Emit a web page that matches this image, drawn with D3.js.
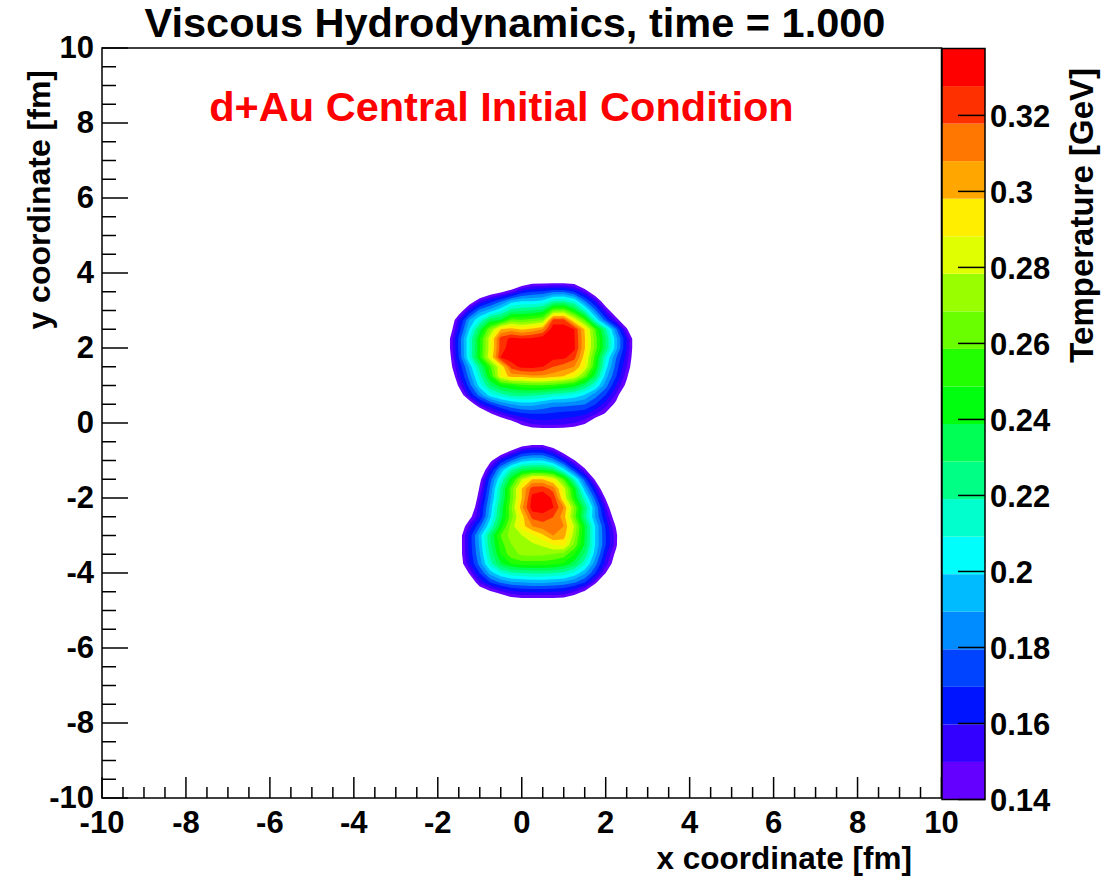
<!DOCTYPE html>
<html>
<head>
<meta charset="utf-8">
<script src="https://cdn.jsdelivr.net/npm/d3@7"></script>
<style>
  body { margin: 0; background: #fff; }
  svg text { font-family: "Liberation Sans", Arial, Helvetica, sans-serif; font-weight: bold; fill: #000; }
</style>
</head>
<body>
<svg id="chart" width="1103" height="878"></svg>
<script>
// ---- data -------------------------------------------------------------
// Grid coordinates (fm) of the sampled temperature field
const gridX = [-2.0, -1.75, -1.5, -1.25, -1.0, -0.75, -0.5, -0.25, 0.0, 0.25, 0.5,
               0.75, 1.0, 1.25, 1.5, 1.75, 2.0, 2.25, 2.5, 2.75, 3.0];
const gridY = [4.0, 3.75, 3.5, 3.25, 3.0, 2.75, 2.5, 2.25, 2.0, 1.75, 1.5, 1.25, 1.0,
               0.75, 0.5, 0.25, 0.0, -0.25, -0.5, -0.75, -1.0, -1.25, -1.5, -1.75,
               -2.0, -2.25, -2.5, -2.75, -3.0, -3.25, -3.5, -3.75, -4.0, -4.25, -4.5,
               -4.75, -5.0];

// Temperature [GeV], one row per gridY value, one column per gridX value
const temperature = [
  [.091,.091,.091,.091,.091,.091,.091,.091,.091,.091,.091,.091,.091,.091,.091,.091,.091,.091,.091,.091,.091],
  [.091,.091,.091,.091,.091,.091,.100,.110,.125,.135,.136,.136,.136,.134,.115,.096,.091,.091,.091,.091,.091],
  [.091,.091,.091,.091,.115,.128,.137,.148,.164,.170,.172,.178,.178,.169,.150,.125,.100,.091,.091,.091,.091],
  [.091,.091,.100,.128,.151,.165,.178,.194,.199,.199,.202,.217,.219,.209,.182,.158,.126,.096,.091,.091,.091],
  [.091,.100,.127,.159,.184,.194,.207,.224,.227,.229,.234,.264,.266,.244,.214,.182,.151,.122,.091,.091,.091],
  [.091,.117,.155,.189,.209,.234,.239,.261,.259,.263,.268,.321,.321,.288,.259,.209,.175,.147,.120,.091,.091],
  [.091,.125,.163,.199,.234,.268,.298,.303,.296,.301,.308,.335,.335,.328,.297,.259,.220,.181,.143,.105,.091],
  [.097,.134,.172,.209,.248,.285,.323,.330,.328,.330,.334,.336,.336,.329,.299,.264,.229,.193,.159,.123,.091],
  [.097,.134,.172,.209,.248,.285,.323,.333,.336,.335,.334,.335,.335,.330,.299,.264,.229,.193,.159,.123,.091],
  [.091,.130,.170,.209,.249,.288,.328,.333,.335,.334,.332,.331,.330,.321,.293,.254,.211,.180,.155,.122,.091],
  [.097,.128,.161,.192,.225,.257,.289,.322,.331,.331,.328,.318,.313,.308,.288,.249,.204,.175,.150,.120,.091],
  [.091,.115,.155,.184,.214,.249,.288,.303,.303,.306,.306,.303,.298,.288,.264,.234,.194,.170,.143,.110,.091],
  [.091,.105,.143,.175,.204,.229,.244,.249,.254,.257,.257,.254,.249,.244,.229,.209,.184,.160,.135,.100,.091],
  [.091,.091,.125,.160,.184,.204,.214,.222,.224,.222,.219,.214,.211,.207,.199,.184,.170,.148,.115,.091,.091],
  [.091,.091,.100,.125,.155,.170,.182,.189,.194,.194,.189,.184,.184,.182,.180,.170,.155,.135,.105,.091,.091],
  [.091,.091,.091,.096,.115,.138,.152,.163,.168,.170,.170,.168,.166,.165,.162,.152,.138,.110,.091,.091,.091],
  [.091,.091,.091,.091,.091,.105,.120,.132,.145,.153,.155,.155,.154,.150,.143,.125,.105,.091,.091,.091,.091],
  [.091,.091,.091,.091,.091,.091,.091,.105,.120,.126,.127,.127,.127,.125,.115,.100,.091,.091,.091,.091,.091],
  [.091,.091,.091,.091,.091,.091,.091,.100,.120,.127,.127,.115,.100,.091,.091,.091,.091,.091,.091,.091,.091],
  [.091,.091,.091,.091,.091,.100,.125,.143,.160,.165,.164,.152,.132,.105,.091,.091,.091,.091,.091,.091,.091],
  [.091,.091,.091,.091,.100,.135,.162,.179,.194,.199,.199,.186,.165,.142,.117,.091,.091,.091,.091,.091,.091],
  [.091,.091,.091,.091,.120,.158,.192,.219,.234,.239,.239,.232,.204,.172,.145,.110,.091,.091,.091,.091,.091],
  [.091,.091,.091,.091,.135,.175,.209,.244,.278,.298,.298,.288,.259,.214,.175,.137,.100,.091,.091,.091,.091],
  [.091,.091,.091,.100,.143,.182,.222,.262,.298,.323,.325,.313,.283,.244,.194,.160,.120,.091,.091,.091,.091],
  [.091,.091,.091,.110,.150,.187,.224,.262,.298,.331,.334,.326,.288,.249,.212,.176,.138,.100,.091,.091,.091],
  [.091,.091,.091,.120,.157,.193,.231,.267,.305,.333,.334,.328,.308,.268,.229,.189,.152,.115,.091,.091,.091],
  [.091,.091,.095,.134,.160,.197,.234,.264,.293,.321,.324,.318,.303,.264,.224,.189,.160,.128,.091,.091,.091],
  [.091,.091,.122,.152,.178,.209,.244,.273,.293,.308,.313,.315,.308,.278,.239,.199,.168,.138,.095,.091,.091],
  [.091,.091,.130,.163,.194,.229,.259,.273,.278,.286,.296,.308,.303,.273,.239,.199,.170,.144,.100,.091,.091],
  [.091,.091,.130,.163,.192,.227,.254,.268,.273,.276,.280,.288,.291,.266,.237,.199,.170,.143,.100,.091,.091],
  [.091,.091,.130,.162,.189,.222,.249,.265,.270,.271,.270,.268,.264,.249,.227,.194,.162,.135,.095,.091,.091],
  [.091,.091,.127,.158,.184,.214,.237,.249,.254,.254,.254,.252,.247,.234,.212,.184,.155,.128,.091,.091,.091],
  [.091,.091,.110,.142,.170,.194,.209,.217,.219,.221,.221,.219,.216,.207,.192,.170,.140,.105,.091,.091,.091],
  [.091,.091,.091,.120,.152,.170,.181,.187,.189,.191,.191,.189,.187,.181,.170,.144,.115,.091,.091,.091,.091],
  [.091,.091,.091,.091,.125,.137,.148,.156,.160,.161,.161,.160,.158,.150,.137,.115,.091,.091,.091,.091,.091],
  [.091,.091,.091,.091,.091,.100,.115,.128,.130,.130,.130,.130,.129,.120,.100,.091,.091,.091,.091,.091,.091],
  [.091,.091,.091,.091,.091,.091,.091,.091,.091,.091,.091,.091,.091,.091,.091,.091,.091,.091,.091,.091,.091]
];

// Axis ticks and colour-axis range
const xTicks = [-10, -8, -6, -4, -2, 0, 2, 4, 6, 8, 10];
const yTicks = [-10, -8, -6, -4, -2, 0, 2, 4, 6, 8, 10];
const tempTicks = [0.14, 0.16, 0.18, 0.2, 0.22, 0.24, 0.26, 0.28, 0.3, 0.32];
const tempRange = [0.14, 0.3376];
const contourCount = 20;

// Rainbow palette, violet -> red, one colour per contour band
const bandColors = ["#6300ff", "#3300ff", "#0014ff", "#0044ff", "#008bff", "#00bbff",
                    "#00fffc", "#00ffcc", "#00ff85", "#00ff55", "#00ff0e", "#22ff00",
                    "#69ff00", "#99ff00", "#e0ff00", "#ffee00", "#ffa700", "#ff7700",
                    "#ff3000", "#ff0000"];

// ---- layout -----------------------------------------------------------
const frame = { left: 102, right: 941.5, top: 48, bottom: 798 };
const bar = { left: 942, right: 985, top: 48.5, bottom: 799.5 };

const svg = d3.select("#chart");
const x = d3.scaleLinear().domain([-10, 10]).range([frame.left, frame.right]);
const y = d3.scaleLinear().domain([-10, 10]).range([frame.bottom, frame.top]);
const z = d3.scaleLinear().domain(tempRange).range([bar.bottom, bar.top]);

// ---- temperature field as filled contour bands ---------------------
const nx = gridX.length, ny = gridY.length;
const levels = d3.range(contourCount).map(i => tempRange[0] + i * (tempRange[1] - tempRange[0]) / contourCount);
const contours = d3.contours().size([nx, ny]).thresholds(levels)(temperature.flat());

// contour coordinates: value i sits at i + 0.5
const gx = d3.scaleLinear().domain([0.5, nx - 0.5]).range([gridX[0], gridX[nx - 1]]);
const gy = d3.scaleLinear().domain([0.5, ny - 0.5]).range([gridY[0], gridY[ny - 1]]);
const toScreen = d3.geoTransform({
  point(px, py) { this.stream.point(x(gx(px)), y(gy(py))); }
});
const path = d3.geoPath(toScreen);

svg.append("clipPath").attr("id", "frameClip")
  .append("rect")
  .attr("x", frame.left).attr("y", frame.top)
  .attr("width", frame.right - frame.left).attr("height", frame.bottom - frame.top);

svg.append("g").attr("clip-path", "url(#frameClip)")
  .selectAll("path")
  .data(contours)
  .join("path")
  .attr("d", path)
  .attr("fill", (d, i) => bandColors[i]);

// ---- frame & axes -----------------------------------------------------
svg.append("rect")
  .attr("x", frame.left).attr("y", frame.top)
  .attr("width", frame.right - frame.left).attr("height", frame.bottom - frame.top)
  .attr("fill", "none").attr("stroke", "#000").attr("stroke-width", 1.5);

const minorStep = 0.5;
const minorTicks = d3.range(-10, 10.001, minorStep).filter(v => Math.abs(v / 2 - Math.round(v / 2)) > 1e-6);

const axes = svg.append("g").attr("stroke", "#000").attr("stroke-width", 1.5);
// x axis ticks (pointing up into the frame)
axes.selectAll(".xmaj").data(xTicks).join("line")
  .attr("x1", d => x(d)).attr("x2", d => x(d))
  .attr("y1", frame.bottom).attr("y2", frame.bottom - 21);
axes.selectAll(".xmin").data(minorTicks).join("line")
  .attr("x1", d => x(d)).attr("x2", d => x(d))
  .attr("y1", frame.bottom).attr("y2", frame.bottom - 11);
// y axis ticks (pointing right into the frame)
axes.selectAll(".ymaj").data(yTicks).join("line")
  .attr("y1", d => y(d)).attr("y2", d => y(d))
  .attr("x1", frame.left).attr("x2", frame.left + 26);
axes.selectAll(".ymin").data(minorTicks).join("line")
  .attr("y1", d => y(d)).attr("y2", d => y(d))
  .attr("x1", frame.left).attr("x2", frame.left + 14);

svg.append("g").selectAll("text").data(xTicks).join("text")
  .attr("x", d => x(d)).attr("y", 833)
  .attr("text-anchor", "middle").attr("font-size", 31)
  .text(d => d);
svg.append("g").selectAll("text").data(yTicks).join("text")
  .attr("x", 94).attr("y", d => y(d)).attr("dy", "0.33em")
  .attr("text-anchor", "end").attr("font-size", 31)
  .text(d => d);

// axis titles
svg.append("text")
  .attr("x", 912).attr("y", 869)
  .attr("text-anchor", "end").attr("font-size", 31.5)
  .text("x coordinate [fm]");
svg.append("text")
  .attr("transform", "translate(50,70) rotate(-90)")
  .attr("text-anchor", "end").attr("font-size", 32)
  .text("y coordinate [fm]");

// ---- colour bar -------------------------------------------------------
const bandEdges = d3.range(contourCount + 1).map(i => tempRange[0] + i * (tempRange[1] - tempRange[0]) / contourCount);
svg.append("g").selectAll("rect").data(bandColors).join("rect")
  .attr("x", bar.left).attr("width", bar.right - bar.left)
  .attr("y", (d, i) => z(bandEdges[i + 1]))
  .attr("height", (d, i) => z(bandEdges[i]) - z(bandEdges[i + 1]))
  .attr("fill", d => d);
svg.append("rect")
  .attr("x", bar.left).attr("y", bar.top)
  .attr("width", bar.right - bar.left).attr("height", bar.bottom - bar.top)
  .attr("fill", "none").attr("stroke", "#000").attr("stroke-width", 1.5);
svg.append("g").attr("stroke", "#000").attr("stroke-width", 1.5)
  .selectAll("line").data(tempTicks).join("line")
  .attr("x1", bar.right).attr("x2", bar.right - 27)
  .attr("y1", d => z(d)).attr("y2", d => z(d));
svg.append("g").selectAll("text").data(tempTicks).join("text")
  .attr("x", 990).attr("y", d => z(d)).attr("dy", "0.36em")
  .attr("font-size", 31)
  .text(d => String(d));
svg.append("text")
  .attr("transform", "translate(1093,68) rotate(-90)")
  .attr("text-anchor", "end").attr("font-size", 33)
  .text("Temperature [GeV]");

// ---- titles -----------------------------------------------------------
svg.append("text")
  .attr("x", 515).attr("y", 37)
  .attr("text-anchor", "middle").attr("font-size", 41.5)
  .text("Viscous Hydrodynamics, time = 1.000");
svg.append("text")
  .attr("x", 501.5).attr("y", 121)
  .attr("text-anchor", "middle").attr("font-size", 41.5)
  .style("fill", "#ff0000")
  .text("d+Au Central Initial Condition");
</script>
</body>
</html>
